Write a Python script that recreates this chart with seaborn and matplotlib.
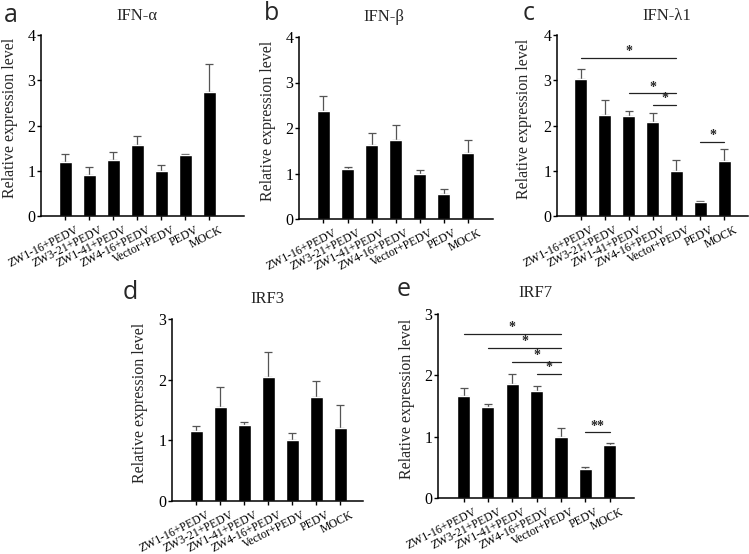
import numpy as np
import pandas as pd
import matplotlib
matplotlib.use("Agg")
import matplotlib.pyplot as plt
import matplotlib.transforms as mtransforms
import seaborn as sns

# ---------------- data ----------------
categories = ["ZW1-16+PEDV", "ZW3-21+PEDV", "ZW1-41+PEDV", "ZW4-16+PEDV",
              "Vector+PEDV", "PEDV", "MOCK"]

ifn_a = [1.19, 0.91, 1.23, 1.57, 1.00, 1.34, 2.75]
ifn_a_err = [0.19, 0.17, 0.18, 0.19, 0.12, 0.02, 0.62]

ifn_b = [2.38, 1.10, 1.63, 1.74, 1.00, 0.56, 1.45]
ifn_b_err = [0.33, 0.05, 0.27, 0.33, 0.07, 0.09, 0.29]

ifn_l1 = [3.03, 2.23, 2.21, 2.08, 1.00, 0.32, 1.21]
ifn_l1_err = [0.21, 0.33, 0.11, 0.19, 0.24, 0.01, 0.26]

irf3 = [1.15, 1.55, 1.26, 2.05, 1.00, 1.72, 1.20]
irf3_err = [0.09, 0.33, 0.05, 0.41, 0.12, 0.25, 0.39]

irf7 = [1.66, 1.48, 1.86, 1.74, 1.00, 0.47, 0.86]
irf7_err = [0.13, 0.05, 0.16, 0.09, 0.14, 0.04, 0.03]

# significance brackets: (start index, end index, height, label)
sig_l1 = [(0, 4, 3.49, "*"), (2, 4, 2.71, "*"), (3, 4, 2.46, "*"), (5, 6, 1.63, "*")]
sig_irf7 = [(0, 4, 2.68, "*"), (1, 4, 2.45, "*"), (2, 4, 2.22, "*"),
            (3, 4, 2.02, "*"), (5, 6, 1.07, "**")]

titles = ["IFN-\u03b1", "IFN-\u03b2", "IFN-\u03bb1", "IRF3", "IRF7"]
letters = ["a", "b", "c", "d", "e"]
ylabel = "Relative expression level"

# ---------------- style ----------------
sns.set_style("ticks")
plt.rcParams["font.family"] = ["Liberation Serif", "DejaVu Serif"]

W, H = 749, 554
fig = plt.figure(figsize=(W / 100, H / 100), dpi=100)


def add_panel(left, right, top, bottom, values, errs, ymax, xlim, title,
              title_xy, letter, letter_xy, ylab_xy, sigs=None):
    ax = fig.add_axes([left / W, 1 - bottom / H, (right - left) / W, (bottom - top) / H])
    df = pd.DataFrame({"group": categories, "value": values})
    sns.barplot(data=df, x="group", y="value", order=categories, color="black",
                saturation=1, width=0.54, errorbar=None, ax=ax, zorder=2)
    ax.errorbar(np.arange(len(categories)), values,
                yerr=[np.zeros(len(errs)), errs], fmt="none", ecolor="#555555",
                elinewidth=0.9, capsize=3, capthick=0.9, zorder=1)
    ax.set_ylim(0, ymax)
    ax.set_xlim(*xlim)
    ax.set_yticks(range(0, ymax + 1))
    ax.set_yticklabels([str(v) for v in range(0, ymax + 1)], fontsize=11.5)
    ax.set_xlabel("")
    ax.set_ylabel(ylabel, fontsize=11.5, va="center")
    ax.yaxis.set_label_coords((ylab_xy[0] - left) / (right - left),
                              (bottom - ylab_xy[1]) / (bottom - top))
    for s in ["top", "right"]:
        ax.spines[s].set_visible(False)
    for s in ["left", "bottom"]:
        ax.spines[s].set_linewidth(1.1)
        ax.spines[s].set_color("black")
    ax.tick_params(axis="y", length=3, width=1.0, pad=1, colors="black")
    ax.tick_params(axis="x", length=3, width=1.0, pad=2, colors="black")
    ax.set_xticks(range(len(categories)))
    ax.set_xticklabels(categories, rotation=27, ha="right", va="top",
                       rotation_mode="anchor", fontsize=8.5)
    offset = mtransforms.ScaledTranslation(0.10, -0.01, fig.dpi_scale_trans)
    for lab in ax.get_xticklabels():
        lab.set_transform(lab.get_transform() + offset)
    if sigs:
        for i0, i1, h, lab in sigs:
            ax.plot([i0, i1], [h, h], color="#222222", lw=0.9, zorder=3)
            ax.annotate(lab, xy=((i0 + i1) / 2, h), xytext=(0, 4.5),
                        textcoords="offset points", ha="center", va="center",
                        fontsize=10, fontweight="bold")
    fig.text(title_xy[0] / W, 1 - title_xy[1] / H, title, ha="center", va="center",
             fontsize=12)
    fig.text(letter_xy[0] / W, 1 - letter_xy[1] / H, letter, ha="center", va="center",
             fontsize=18, family=["Open Sans", "DejaVu Sans"])
    return ax


add_panel(41, 244, 35, 216, ifn_a, ifn_a_err, 4, (-1.02, 7.44), titles[0],
          (137, 16), letters[0], (11, 15), (10, 118))
add_panel(299, 493, 37, 219, ifn_b, ifn_b_err, 4, (-1.02, 7.06), titles[1],
          (384, 17), letters[1], (272, 13), (268, 121))
add_panel(557, 748, 35, 216, ifn_l1, ifn_l1_err, 4, (-0.98, 6.98), titles[2],
          (667, 16), letters[2], (529, 14), (524, 119), sig_l1)
add_panel(172, 363, 319, 501, irf3, irf3_err, 3, (-1.0, 6.95), titles[3],
          (267, 299), letters[3], (130, 292), (140, 403))
add_panel(438, 634, 314, 498, irf7, irf7_err, 3, (-1.05, 7.0), titles[4],
          (535, 293), letters[4], (404, 289), (407, 399), sig_irf7)

fig.savefig("out.png", dpi=100)
